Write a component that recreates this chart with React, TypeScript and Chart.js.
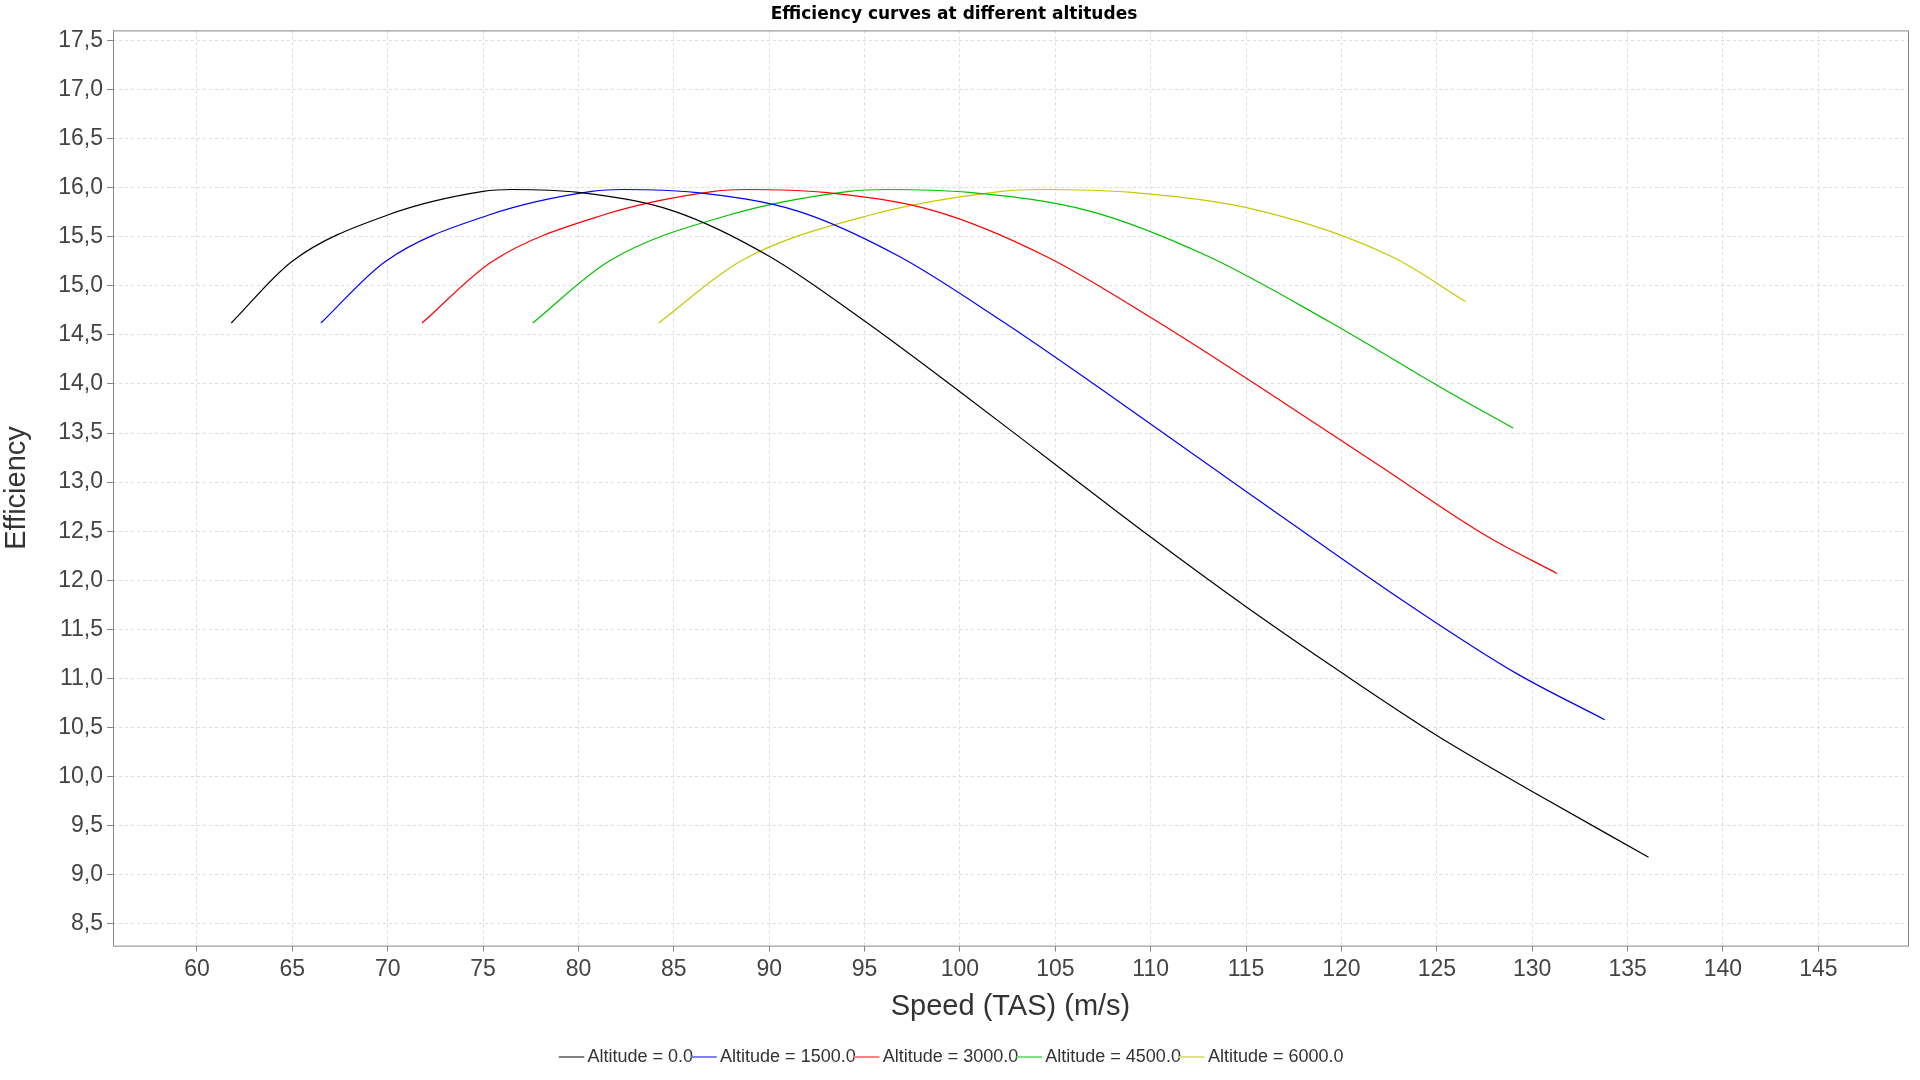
import React, { useEffect, useRef } from "react";
import { Chart, registerables } from "chart.js";
Chart.register(...registerables);

const seriesLabels = ["Altitude = 0.0", "Altitude = 1500.0", "Altitude = 3000.0", "Altitude = 4500.0", "Altitude = 6000.0"];
const seriesColors = ["#000000", "#0000ff", "#ff0000", "#00c000", "#c8c800"];
const legendColors = ["#808080", "#8080ff", "#ff8080", "#80e080", "#e0e080"];

const x0 = [61.8, 65, 70, 75, 76.5, 80, 85, 90, 95, 100, 105, 110, 115, 120, 125, 130, 136.1];
const y0 = [14.62, 15.25, 15.72, 15.96, 15.98, 15.95, 15.76, 15.3, 14.64, 13.92, 13.18, 12.44, 11.73, 11.06, 10.42, 9.85, 9.18];
const x1 = [66.5, 69.9, 75.3, 80.7, 82.3, 86.1, 91.5, 96.8, 102.2, 107.6, 113.0, 118.4, 123.7, 129.1, 133.8];
const y1 = [14.62, 15.25, 15.72, 15.96, 15.98, 15.95, 15.76, 15.3, 14.64, 13.92, 13.18, 12.44, 11.73, 11.06, 10.58];
const x2 = [71.8, 75.5, 81.3, 87.1, 88.8, 92.9, 98.7, 104.5, 110.3, 116.1, 121.9, 127.7, 131.3];
const y2 = [14.62, 15.25, 15.72, 15.96, 15.98, 15.95, 15.76, 15.3, 14.64, 13.92, 13.18, 12.44, 12.07];
const x3 = [77.6, 81.6, 87.9, 94.2, 96.1, 100.5, 106.8, 113.0, 119.3, 125.6, 129.0];
const y3 = [14.62, 15.25, 15.72, 15.96, 15.98, 15.95, 15.76, 15.3, 14.64, 13.92, 13.55];
const x4 = [84.2, 88.5, 95.3, 102.2, 104.2, 109.0, 115.8, 122.6, 126.5];
const y4 = [14.62, 15.25, 15.72, 15.96, 15.98, 15.95, 15.76, 15.3, 14.84];

const xs = [x0, x1, x2, x3, x4];
const ys = [y0, y1, y2, y3, y4];
const xTicks = [60, 65, 70, 75, 80, 85, 90, 95, 100, 105, 110, 115, 120, 125, 130, 135, 140, 145];
const yTicks = [8.5, 9, 9.5, 10, 10.5, 11, 11.5, 12, 12.5, 13, 13.5, 14, 14.5, 15, 15.5, 16, 16.5, 17, 17.5];

const borderPlugin = {
  id: "plotBorder",
  afterDraw(chart: any) {
    const { ctx, chartArea: a } = chart;
    ctx.save();
    ctx.strokeStyle = "#888888";
    ctx.lineWidth = 1;
    ctx.strokeRect(a.left + 0.5, a.top + 0.5, a.right - a.left, a.bottom - a.top);
    ctx.restore();
  },
};

export default function App() {
  const ref = useRef<HTMLCanvasElement>(null);
  useEffect(() => {
    const chart = new Chart(ref.current!, {
      type: "line",
      data: {
        datasets: seriesLabels.map((label, i) => ({
          label,
          data: xs[i].map((x, j) => ({ x, y: ys[i][j] })),
          borderColor: seriesColors[i],
          backgroundColor: legendColors[i],
          borderWidth: 1.2,
          pointRadius: 0,
          cubicInterpolationMode: "monotone" as const,
          fill: false,
        })),
      },
      options: {
        animation: false,
        responsive: false,
        layout: { padding: { left: 0, right: 12, top: 0, bottom: 4 } },
        plugins: {
          title: {
            display: true,
            text: "Efficiency curves at different altitudes",
            font: { family: "DejaVu Sans", size: 17, weight: "bold" },
            color: "#000",
            padding: { top: 4, bottom: 6 },
          },
          legend: {
            position: "bottom",
            labels: {
              usePointStyle: true,
              pointStyle: "line",
              boxWidth: 14,
              padding: 4,
              color: "#333",
              font: { family: "Liberation Sans", size: 18 },
              generateLabels: (c: any) =>
                c.data.datasets.map((d: any, i: number) => ({
                  text: d.label,
                  strokeStyle: legendColors[i],
                  fillStyle: legendColors[i],
                  lineWidth: 2,
                  pointStyle: "line",
                  datasetIndex: i,
                  fontColor: "#333",
                })),
            },
          },
          tooltip: { enabled: false },
        },
        scales: {
          x: {
            type: "linear",
            min: 55.6,
            max: 149.7,
            afterBuildTicks: (s: any) => { s.ticks = xTicks.map((v) => ({ value: v })); },
            ticks: { color: "#444", font: { family: "Liberation Sans", size: 23 }, padding: 4 },
            grid: { color: "#dddddd", tickColor: "#888", tickLength: 6 },
            border: { display: false, dash: [3, 3] },
            title: { display: true, text: "Speed (TAS) (m/s)", color: "#333", font: { family: "Liberation Sans", size: 29 }, padding: { top: 2, bottom: 20 } },
          },
          y: {
            type: "linear",
            min: 8.28,
            max: 17.6,
            afterBuildTicks: (s: any) => { s.ticks = yTicks.map((v) => ({ value: v })); },
            afterFit: (s: any) => { s.width = 113; },
            ticks: {
              color: "#444",
              font: { family: "Liberation Sans", size: 23 },
              padding: 4,
              callback: (v: any) => Number(v).toFixed(1).replace(".", ","),
            },
            grid: { color: "#dddddd", tickColor: "#888", tickLength: 6 },
            border: { display: false, dash: [3, 3] },
            title: { display: true, text: "Efficiency", color: "#333", font: { family: "Liberation Sans", size: 29 }, padding: { top: 0, bottom: 2 } },
          },
        },
      },
      plugins: [borderPlugin],
    } as any);
    return () => chart.destroy();
  }, []);
  return (
    <canvas
      ref={ref}
      width={1920}
      height={1080}
      style={{ position: "absolute", left: 0, top: 0, width: 1920, height: 1080, background: "#fff" }}
    />
  );
}
